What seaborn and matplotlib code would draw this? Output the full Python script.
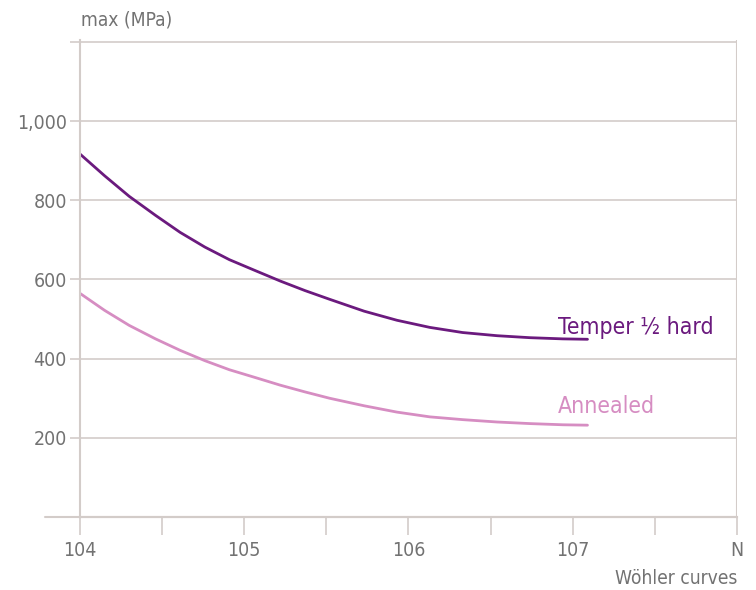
import numpy as np
import pandas as pd
import matplotlib.pyplot as plt
import seaborn as sns
from matplotlib import font_manager

# values (x = log10 N, y = stress in MPa)
temper_logn = [4.00, 4.15, 4.30, 4.46, 4.61, 4.76, 4.91, 5.07, 5.22, 5.37, 5.52,
               5.73, 5.93, 6.13, 6.33, 6.54, 6.74, 6.94, 7.09]
temper_mpa = [917, 862, 810, 762, 719, 682, 650, 622, 596, 572, 550,
              520, 497, 479, 466, 458, 453, 450, 449]
annealed_logn = [4.00, 4.15, 4.30, 4.46, 4.61, 4.76, 4.91, 5.07, 5.22, 5.37, 5.52,
                 5.73, 5.93, 6.13, 6.33, 6.54, 6.74, 6.94, 7.09]
annealed_mpa = [565, 522, 484, 450, 421, 395, 372, 352, 333, 316, 300,
                281, 265, 253, 246, 240, 236, 233, 232]

series_names = ["Temper ½ hard", "Annealed"]
series_colors = ["#6b1a7e", "#d68dc2"]
x_ticks = [4, 5, 6, 7, 8]
x_ticklabels = ["104", "105", "106", "107", "N"]
y_ticks = [0, 200, 400, 600, 800, 1000, 1200]
y_ticklabels = ["", "200", "400", "600", "800", "1,000", ""]

df = pd.concat([
    pd.DataFrame({"logN": temper_logn, "MPa": temper_mpa, "series": series_names[0]}),
    pd.DataFrame({"logN": annealed_logn, "MPa": annealed_mpa, "series": series_names[1]}),
])

sns.set_style("white")
installed = {f.name for f in font_manager.fontManager.ttflist}
if "Liberation Sans Narrow" in installed:
    plt.rcParams["font.family"] = ["Liberation Sans Narrow", "DejaVu Sans"]
else:
    plt.rcParams["font.family"] = ["DejaVu Sans"]
    plt.rcParams["font.stretch"] = "condensed"

grid_c = "#d3ccc9"
text_c = "#727272"

fig = plt.figure(figsize=(7.56, 5.9), dpi=100)
ax = fig.add_axes([0.1058, 0.1237, 0.869, 0.8085])

sns.lineplot(data=df, x="logN", y="MPa", hue="series",
             palette=dict(zip(series_names, series_colors)),
             linewidth=2, legend=False, ax=ax)

ax.set_xlim(4, 8)
ax.set_ylim(0, 1205)
ax.set_xticks(x_ticks)
ax.set_xticklabels(x_ticklabels)
ax.set_xticks([4.5, 5.5, 6.5, 7.5], minor=True)
ax.set_yticks(y_ticks)
ax.set_yticklabels(y_ticklabels)
ax.set_xlabel("")
ax.set_ylabel("")

ax.grid(axis="y", color=grid_c, linewidth=1.2)
ax.set_axisbelow(True)
for side in ["top", "right"]:
    ax.spines[side].set_visible(False)
ax.spines["left"].set_color(grid_c)
ax.spines["left"].set_linewidth(1.5)
ax.spines["bottom"].set_color(grid_c)
ax.spines["bottom"].set_linewidth(1.5)
ax.axvline(8, color=grid_c, linewidth=1.5)
ax.axhline(0, xmin=-0.053, xmax=1, color=grid_c, linewidth=1.5, clip_on=False)

ax.tick_params(axis="x", which="both", bottom=True, direction="out", length=13,
               width=1.2, color=grid_c, labelcolor=text_c, labelsize=14, pad=4)
ax.tick_params(axis="y", left=True, direction="out", length=7.5, width=1.2,
               color=grid_c, labelcolor=text_c, labelsize=14, pad=2)

ax.text(6.91, 463, series_names[0], color=series_colors[0], fontsize=16.5, va="baseline")
ax.text(6.91, 262, series_names[1], color=series_colors[1], fontsize=16.5, va="baseline")

fig.text(81 / 756, 1 - 20 / 590, "max (MPa)", color=text_c, fontsize=13.8, va="center")
fig.text(737 / 756, 1 - 578 / 590, "Wöhler curves", color=text_c, fontsize=13.8,
         va="center", ha="right")

fig.savefig("out.png", dpi=100)
